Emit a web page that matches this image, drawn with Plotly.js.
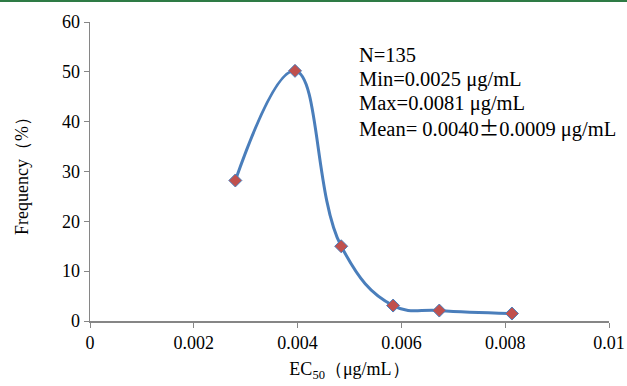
<!DOCTYPE html>
<html><head><meta charset="utf-8">
<script src="https://cdn.plot.ly/plotly-3.0.1.min.js"></script>
<style>body{margin:0;padding:0;background:#fff}#bar{position:absolute;left:0;top:0;width:627px;height:2px;background:#2e7b45;z-index:10}</style>
</head><body><div id="bar"></div><div id="chart" style="width:627px;height:386px"></div>
<script>
const ec50 = [0.0028, 0.00395, 0.00484, 0.00584, 0.00673, 0.00813];
const frequency = [28.2, 50.2, 15.0, 3.1, 2.1, 1.5];
const xTicks = [0, 0.002, 0.004, 0.006, 0.008, 0.01];
const xTickLabels = ['0', '0.002', '0.004', '0.006', '0.008', '0.01'];
const statLines = ['N=135', 'Min=0.0025 μg/mL', 'Max=0.0081 μg/mL',
  'Mean= 0.0040<span style="font-family:Noto Sans CJK SC">±</span>0.0009 μg/mL'];

const serif = 'Liberation Serif, Times New Roman, serif';
const font = {family: serif, color: '#000', size: 18};
const annotations = statLines.map((t, i) => ({
  text: t, xref: 'paper', yref: 'paper', x: (357-90)/519, y: 1 - (55 + i*24 - 22)/299,
  xanchor: 'left', yanchor: 'middle', showarrow: false, font: {family: serif, size: 20.5, color: '#000'}
}));

Plotly.newPlot('chart', [{
  x: ec50, y: frequency, type: 'scatter', mode: 'lines+markers',
  line: {shape: 'spline', smoothing: 1.2, color: '#4a7ebb', width: 3},
  marker: {symbol: 'diamond', size: 10, color: '#c0504d', line: {color: '#4a7ebb', width: 1}}
}], {
  width: 627, height: 386,
  margin: {l: 90, r: 18, t: 22, b: 65},
  paper_bgcolor: '#fff', plot_bgcolor: '#fff',
  showlegend: false, font: font,
  xaxis: {range: [0, 0.01], tickvals: xTicks, ticktext: xTickLabels, showgrid: false, zeroline: false,
    showline: true, linecolor: '#868686', linewidth: 1.5, ticks: 'outside', ticklen: 5, tickcolor: '#868686',
    tickfont: {family: serif, size: 18},
    title: {text: 'EC<sub>50</sub>（μg/mL）', font: {family: serif, size: 18}, standoff: 10}},
  yaxis: {range: [0, 60], dtick: 10, showgrid: false, zeroline: false,
    showline: true, linecolor: '#868686', linewidth: 1.5, ticks: 'outside', ticklen: 5, tickcolor: '#868686',
    tickfont: {family: serif, size: 18},
    title: {text: 'Frequency（%）', font: {family: serif, size: 18}, standoff: 28}},
  annotations: annotations
}, {displayModeBar: false, staticPlot: true});
</script></body></html>
